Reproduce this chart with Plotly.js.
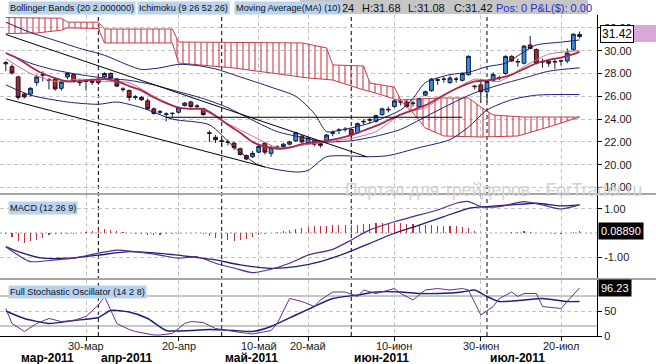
<!DOCTYPE html>
<html>
<head>
<meta charset="utf-8">
<script src="https://cdn.plot.ly/plotly-3.0.1.min.js"></script>
<style>html,body{margin:0;padding:0;background:#fff;overflow:hidden;}#chart{width:656px;height:364px;}</style>
</head>
<body>
<div id="chart"></div>
<script>
// ---------- trading calendar ----------
const monthDays = {
  '2011-03': [11,14,15,16,17,18,21,22,23,24,25,28,29,30,31],
  '2011-04': [1,4,5,6,7,8,11,12,13,14,15,18,19,20,21,25,26,27,28,29],
  '2011-05': [2,3,4,5,6,9,10,11,12,13,16,17,18,19,20,23,24,25,26,27,31],
  '2011-06': [1,2,3,6,7,8,9,10,13,14,15,16,17,20,21,22,23,24,27,28,29,30],
  '2011-07': [1,5,6,7,8,11,12,13,14,15,18,19,20,21,22,25]
};
const dates = [];
Object.keys(monthDays).forEach(m => monthDays[m].forEach(d => dates.push(m + '-' + String(d).padStart(2,'0'))));

const tickDates  = ['2011-03-30','2011-04-20','2011-05-10','2011-05-20','2011-06-10','2011-06-30','2011-07-20'];
const tickLabels = ['30-мар','20-апр','10-май','20-май','10-июн','30-июн','20-июл'];
const monthStartDates = ['2011-04-01','2011-05-02','2011-06-01','2011-07-01'];
const monthLabelDates = ['2011-03-15','2011-04-01','2011-05-02','2011-06-01','2011-07-01'];
const monthLabels = ['мар-2011','апр-2011','май-2011','июн-2011','июл-2011'];

// ---------- OHLC ----------
const open  = [28.85,28.6,27.7,26.2,26.2,27.2,27.85,27.4,27.5,26.7,27.7,27.9,27.25,27.3,27.3,27.5,27.7,28.0,27.5,26.65,
               26.5,25.9,25.9,25.6,24.9,24.6,24.4,24.5,24.6,25.2,25.5,25.1,24.9,22.8,22.4,22.1,22.0,21.9,21.4,20.8,
               20.7,21.1,21.9,21.0,21.5,21.6,21.8,22.1,22.5,21.95,22.1,21.85,22.0,22.75,23.0,23.1,23.1,22.8,23.75,23.9,
               23.8,24.4,24.8,25.1,25.5,25.5,25.35,25.1,26.1,26.5,27.4,27.5,27.2,27.5,27.4,27.9,26.9,27.0,26.4,27.4,
               27.6,28.0,29.5,29.0,28.9,30.5,30.1,29.0,29.1,29.0,29.1,29.1,30.1,31.24];
const high  = [29.1,28.8,27.8,26.3,26.8,27.9,28.2,27.6,27.6,27.4,28.1,28.0,27.5,27.5,27.5,27.6,28.1,28.1,27.6,26.8,
               26.6,26.1,26.0,25.8,25.0,24.8,24.6,24.6,25.1,25.5,25.6,25.3,25.0,23.0,22.6,22.3,22.2,22.0,21.5,20.9,
               21.2,21.8,22.0,21.7,21.7,21.9,22.1,22.9,22.6,22.4,22.2,21.9,22.7,23.0,23.2,23.3,23.2,23.7,24.0,24.1,
               24.4,25.0,25.1,25.7,25.7,25.7,25.6,25.9,26.5,27.6,27.6,27.7,27.8,27.7,28.1,29.6,27.0,27.3,27.4,28.1,
               27.8,29.6,29.6,29.3,30.5,31.3,30.2,29.3,29.2,29.3,29.2,30.2,31.5,31.68];
const low   = [28.2,27.9,25.7,25.8,26.0,26.9,27.3,26.6,26.5,26.5,27.5,27.2,26.9,26.5,27.0,27.0,27.6,27.5,26.8,26.4,
               25.6,25.7,25.6,24.8,24.4,24.4,23.8,24.2,24.5,25.1,25.0,24.9,24.3,22.0,21.9,21.6,21.7,21.3,20.8,20.4,
               20.6,21.0,20.9,20.7,21.4,21.5,21.7,22.0,21.9,21.8,21.6,21.5,21.9,22.5,22.7,22.9,22.4,22.7,23.5,23.6,
               23.7,24.3,24.6,25.0,25.2,25.0,25.1,25.0,26.0,26.4,27.0,27.2,27.1,27.2,27.3,27.8,26.6,25.4,25.5,27.3,
               27.4,27.9,29.0,28.6,28.8,30.1,28.8,28.5,28.6,28.4,28.7,28.9,30.0,31.08];
const close = [28.95,28.05,25.9,25.95,26.7,27.7,27.9,27.45,26.65,27.25,28.0,27.3,27.2,27.35,27.25,27.2,28.0,27.6,26.9,26.6,
               25.9,25.95,25.7,24.9,24.5,24.65,24.45,24.5,25.0,25.4,25.1,25.15,24.4,22.75,22.2,22.05,21.95,21.5,20.9,20.5,
               21.0,21.6,21.1,21.5,21.55,21.8,22.0,22.8,22.0,22.35,21.8,21.7,22.6,22.8,23.05,23.1,22.6,23.6,23.8,23.95,
               24.3,24.9,24.85,25.6,25.5,25.1,25.4,25.8,26.4,27.5,27.45,27.5,27.6,27.5,28.0,29.5,26.85,26.4,27.3,27.9,
               27.65,29.5,29.1,29.05,30.4,30.2,28.9,29.05,28.9,29.05,29.1,29.8,31.45,31.42];

// ---------- price-panel indicators (read at trading-day numbers) ----------
const cloudAIdx = [0,5,9,10,15,16,27,28,48,52,53,58,59,63,64,70,75,77,79,84,93];
const cloudA    = [32.9,32.9,32.85,32.5,32.5,31.9,31.9,30.76,30.68,30.24,28.75,28.66,27.17,26.8,25.68,25.85,25.85,25.06,24.36,24.18,24.18];
const cloudBIdx = [0,5,9,10,15,16,27,28,37,43,49,53,57,61,64,66,68,71,77,83,88,93];
const cloudB    = [31.5,31.55,31.8,32.0,31.95,30.68,30.68,28.92,28.48,28.04,27.61,27.43,26.73,26.11,25.59,24.54,23.22,22.52,22.43,22.52,23.31,24.18];

const bbUpIdx  = [0,4,8,12,16,20,22,25,28,31,34,38,43,47,50,52,54,59,64,66,68,72,75,78,81,84,86,90,93];
const bbUp     = [32.5,31.6,30.9,30.2,29.6,28.7,28.35,28.5,28.8,28.7,28.4,27.7,26.8,26.0,24.5,22.9,23.0,23.65,24.8,25.8,27.2,27.9,28.1,28.6,28.9,29.9,30.5,30.75,30.94];
const bbMidIdx = [0,4,8,12,16,20,24,28,32,36,40,44,48,52,56,60,64,68,72,76,80,84,88,93];
const bbMid    = [29.8,28.9,28.3,27.9,27.6,27.4,27.0,26.4,25.8,25.0,23.9,22.9,22.4,22.0,22.1,22.5,23.1,24.2,25.3,26.3,27.0,27.6,28.2,28.5];
const bbLowIdx = [0,4,10,15,18,22,27,33,37,41,47,49,52,59,62,67,72,75,78,82,86,93];
const bbLow    = [27.0,26.1,25.5,25.3,25.5,25.0,24.0,23.5,21.55,19.97,19.36,19.5,20.7,20.7,20.8,21.5,22.2,23.3,24.8,25.7,26.1,26.15];

const ma10Idx = [0,2,4,6,8,10,12,14,16,18,20,22,24,26,28,30,32,34,36,38,40,42,44,46,48,50,52,54,56,58,60,62,64,66,68,70,72,74,76,78,80,82,84,86,88,90,92,93];
const ma10    = [29.8,29.3,28.6,28.0,27.6,27.3,27.35,27.45,27.5,27.3,26.9,26.5,25.9,25.4,25.0,24.9,24.9,24.3,23.5,22.8,
                 22.0,21.6,21.4,21.5,21.8,21.95,22.1,22.3,22.6,23.0,23.4,23.9,24.4,24.8,25.2,25.8,26.4,26.9,27.3,27.4,
                 27.6,27.9,28.4,28.9,29.2,29.4,29.7,29.9];
const tenkanIdx = [0,4,8,12,16,20,24,28,32,36,40,44,48,52,56,60,64,68,72,76,80,84,88,93];
const tenkan    = [29.3,28.0,27.3,27.5,27.3,27.2,26.0,25.0,24.8,23.6,22.5,21.5,21.7,22.0,22.3,22.9,24.4,25.0,26.4,27.5,27.3,28.6,29.7,30.0];

// trend lines (trading-day number, price)
const trendUpIdx = [0,58.5],  trendUp = [31.42,20.70];
const trendLoIdx = [0,42],    trendLo = [25.78,19.80];
const levelIdx   = [26,74],   level   = [24.16,24.16];

// ---------- MACD ----------
const macdIdx = [0,2,4,8,11,15,18,21,25,28,31,34,37,40,43,46,49,53,56,59,63,66,70,73,75,77,80,84,87,90,93];
const macd    = [-0.57,-0.92,-1.19,-1.12,-1.05,-0.84,-0.71,-0.78,-0.92,-1.05,-0.99,-1.26,-1.46,-1.65,-1.51,-1.26,-0.92,-0.68,-0.29,0.13,0.47,0.68,0.96,1.24,1.31,1.10,1.10,1.31,1.17,1.00,1.17];
const signalIdx = [0,2,6,10,15,20,25,30,34,38,43,47,51,55,59,63,67,71,75,78,82,86,90,93];
const signal    = [-0.57,-0.78,-1.05,-1.05,-0.92,-0.78,-0.85,-0.99,-1.12,-1.33,-1.47,-1.40,-1.19,-0.85,-0.43,-0.01,0.33,0.68,1.03,1.10,1.17,1.24,1.13,1.17];
const macdHist = [-0.05,-0.15,-0.35,-0.4,-0.35,-0.3,-0.2,-0.1,-0.05,-0.05,
                  -0.05,-0.03,0.02,0.05,0.1,0.12,0.15,0.12,0.08,0.05,
                  0.02,-0.03,-0.05,-0.07,-0.08,-0.07,-0.05,-0.05,-0.04,-0.02,
                  0.0,0.0,-0.05,-0.12,-0.2,-0.25,-0.3,-0.32,-0.3,-0.25,
                  -0.18,-0.1,-0.05,0.0,0.03,0.07,0.12,0.18,0.22,0.25,
                  0.28,0.3,0.3,0.32,0.32,0.33,0.35,0.35,0.36,0.38,
                  0.4,0.4,0.42,0.42,0.4,0.38,0.36,0.35,0.33,0.32,
                  0.3,0.3,0.3,0.28,0.25,0.22,0.1,0.0,-0.02,-0.02,
                  0.0,0.02,0.03,0.05,0.07,0.05,0.02,0.0,-0.02,-0.03,
                  -0.03,-0.02,0.03,0.0889];

// ---------- Stochastic ----------
const kIdx = [0,1,3,5,7,9,11,13,15,16,18,20,21,24,25,27,29,30,32,34,37,40,43,44,46,48,50,51,53,55,57,58,60,63,64,66,68,70,72,74,75,77,79,80,82,83,84,86,87,90,91,93];
const stochK = [55,25,9,25,35,29,31,39,62,79,25,13,9,2,2,5,25,29,27,15,9,4,11,25,75,69,59,72,88,88,79,92,85,95,85,72,92,95,92,95,92,42,59,75,88,79,85,85,59,55,69,96.23];
const dIdx = [0,3,7,11,15,17,20,23,26,30,33,37,40,43,47,50,53,57,60,64,67,70,74,76,78,80,84,87,91,93];
const stochD = [50,35,25,31,37,51,48,35,11,11,13,11,9,19,42,59,75,82,88,88,85,85,88,92,79,69,72,75,69,69];

// ---------- build ----------
const idx = dates.map((d,i) => i);
const pos = d => dates.indexOf(d);
const FONT = 'Liberation Sans, Arial, sans-serif';
const NAVY = '#1e1e78', CLOUD = '#c83c48';

const traces = [
  {x: cloudBIdx, y: cloudB, type:'scatter', mode:'lines', line:{color:CLOUD, width:1}, yaxis:'y', hoverinfo:'skip'},
  {x: cloudAIdx, y: cloudA, type:'scatter', mode:'lines', line:{color:CLOUD, width:1}, yaxis:'y', hoverinfo:'skip',
   fill:'tonexty', fillcolor:'rgba(0,0,0,0)',
   fillpattern:{shape:'|', fgcolor:'#cc3a48', bgcolor:'rgba(255,255,255,0)', size:6, solidity:0.18}},
  {x: bbUpIdx, y: bbUp, type:'scatter', mode:'lines', line:{color:NAVY, width:1, shape:'spline', smoothing:0.7}, hoverinfo:'skip'},
  {x: bbMidIdx, y: bbMid, type:'scatter', mode:'lines', line:{color:NAVY, width:1, shape:'spline', smoothing:0.7}, hoverinfo:'skip'},
  {x: bbLowIdx, y: bbLow, type:'scatter', mode:'lines', line:{color:NAVY, width:1, shape:'spline', smoothing:0.7}, hoverinfo:'skip'},
  {x: tenkanIdx, y: tenkan, type:'scatter', mode:'lines', line:{color:'#d4708a', width:1, shape:'spline', smoothing:0.5}, hoverinfo:'skip'},
  {x: ma10Idx, y: ma10, type:'scatter', mode:'lines', line:{color:'#a8284c', width:1.8, shape:'spline', smoothing:0.7}, hoverinfo:'skip'},
  {x: trendUpIdx, y: trendUp, type:'scatter', mode:'lines', line:{color:'#000', width:1}, hoverinfo:'skip'},
  {x: trendLoIdx, y: trendLo, type:'scatter', mode:'lines', line:{color:'#000', width:1}, hoverinfo:'skip'},
  {x: levelIdx, y: level, type:'scatter', mode:'lines', line:{color:'#000', width:1}, hoverinfo:'skip'},
  {type:'candlestick', x: idx, open: open, high: high, low: low, close: close, yaxis:'y', hoverinfo:'skip',
   whiskerwidth: 0,
   increasing:{line:{color:'#101c3c', width:1}, fillcolor:'#3a8ede'},
   decreasing:{line:{color:'#2a0c14', width:1}, fillcolor:'#9e2a3a'}},
  // MACD
  {x: idx, y: macdHist, type:'bar', yaxis:'y2', marker:{color:'#c4303a', line:{width:0}}, width:0.18, hoverinfo:'skip'},
  {x: signalIdx, y: signal, type:'scatter', mode:'lines', yaxis:'y2', line:{color:NAVY, width:1.3, shape:'spline', smoothing:0.7}, hoverinfo:'skip'},
  {x: macdIdx, y: macd, type:'scatter', mode:'lines', yaxis:'y2', line:{color:'#5c2a88', width:1.2, shape:'spline', smoothing:0.7}, hoverinfo:'skip'},
  // Stochastic
  {x: dIdx, y: stochD, type:'scatter', mode:'lines', yaxis:'y3', line:{color:NAVY, width:1.4, shape:'spline', smoothing:0.6}, hoverinfo:'skip'},
  {x: kIdx, y: stochK, type:'scatter', mode:'lines', yaxis:'y3', line:{color:'#6a2c90', width:1}, hoverinfo:'skip'}
];

const W = 597, H = 336;             // plot-area size in px
const px = X => X / W;               // paper x from pixel
const py = Y => (H - Y) / H;         // paper y from pixel

const shapes = [];
// month separators
monthStartDates.forEach(d => shapes.push({type:'line', xref:'x', yref:'paper', x0:pos(d), x1:pos(d), y0:0, y1:py(15),
  line:{color:'#000', width:1, dash:'4px,3px'}, layer:'below'}));
// panel separators
[194, 279].forEach(Y => shapes.push({type:'line', xref:'paper', yref:'paper', x0:0, x1:px(656), y0:py(Y), y1:py(Y),
  line:{color:'#a6a6a6', width:2}}));
// stochastic levels
[80, 20].forEach(v => shapes.push({type:'line', xref:'paper', yref:'y3', x0:0, x1:1, y0:v, y1:v, line:{color:'#8e8e8e', width:1}, layer:'below'}));
// macd zero
shapes.push({type:'line', xref:'paper', yref:'y2', x0:0, x1:1, y0:0, y1:0, line:{color:'#9a9a9a', width:1, dash:'2px,3px'}, layer:'below'});
// header bar
shapes.push({type:'rect', xref:'paper', yref:'paper', x0:px(300), x1:px(588), y0:py(14), y1:1, fillcolor:'#c6c6c6', line:{width:0}});
// last price side tab
shapes.push({type:'rect', xref:'paper', yref:'y', x0:px(632), x1:px(657), y0:30.76, y1:32.25, fillcolor:'#d9a8d6', line:{width:0}});

const ann = [];
const lbl = (X, Y, text) => ({xref:'paper', yref:'paper', x:px(X), y:py(Y), xanchor:'left', yanchor:'middle',
  text:text, showarrow:false, bgcolor:'#b8d2ef', borderpad:1, font:{family:FONT, size:9.2, color:'#111'}});
const hdr = (X, text, color) => ({xref:'paper', yref:'paper', x:px(X), y:py(7.5), xanchor:'left', yanchor:'middle',
  text:text, showarrow:false, font:{family:FONT, size:11, color:color||'#111'}});
// (the opening price is hidden behind the MA label; only its tail shows)
ann.push(hdr(340,'24'), hdr(360,'H:31.68'), hdr(406,'L:31.08'), hdr(452,'C:31.42'), hdr(494,'Pos: 0 P&amp;L($): 0.00','#2a2ac8'));
ann.push(lbl(8, 8, 'Bollinger Bands (20 2.000000)'), lbl(137, 8, 'Ichimoku (9 26 52 26)'), lbl(234, 8, 'Moving Average(MA) (10)'));
ann.push(lbl(8, 208, 'MACD (12 26 9)'), lbl(8, 292, 'Full Stochastic Oscillator (14 2 8)'));
// watermark
ann.push({xref:'paper', yref:'paper', x:px(343), y:py(190), xanchor:'left', yanchor:'middle', showarrow:false,
  text:'Портал для трейдеров - ForTrader.ru', font:{family:FONT, size:17.5, color:'#d2d2d2'}});
// value tags
ann.push({xref:'paper', yref:'y', x:px(600), y:31.42, xanchor:'left', yanchor:'middle', showarrow:false, text:'31.42',
  bgcolor:'#fff', bordercolor:'#000', borderwidth:1, borderpad:1, font:{family:FONT, size:12, color:'#000'}});
ann.push({xref:'paper', yref:'y2', x:px(598), y:0.0889, xanchor:'left', yanchor:'middle', showarrow:false, text:'0.08890',
  bgcolor:'#000', borderpad:2, font:{family:FONT, size:11, color:'#fff'}});
ann.push({xref:'paper', yref:'y3', x:px(598), y:96.23, xanchor:'left', yanchor:'middle', showarrow:false, text:'96.23',
  bgcolor:'#000', borderpad:2, font:{family:FONT, size:11, color:'#fff'}});
// date tick labels
tickLabels.forEach((t,k) => ann.push({xref:'x', yref:'paper', x:pos(tickDates[k]), y:py(346), xanchor:'center', yanchor:'middle',
  showarrow:false, text:t, font:{family:FONT, size:11, color:'#1a1a1a'}}));
// month labels
monthLabels.forEach((t,k) => ann.push({xref:'x', yref:'paper', x:pos(monthLabelDates[k]), y:py(358), xanchor:'left', yanchor:'middle',
  xshift:1, showarrow:false, text:'<b>'+t+'</b>', font:{family:FONT, size:12, color:'#000'}}));

const priceTicks = [18,20,22,24,26,28,30,32];
const yCommon = {side:'right', anchor:'x', showline:true, linecolor:'#000', linewidth:1, ticks:'outside', ticklen:4,
  tickcolor:'#000', tickfont:{family:FONT, size:11, color:'#1a1a1a'}, zeroline:false, showgrid:true,
  gridcolor:'#c4c4c4', griddash:'4px,3px', fixedrange:true, tickmode:'array'};

const layout = {
  width:656, height:364, margin:{l:0, r:59, t:0, b:28}, paper_bgcolor:'#fff', plot_bgcolor:'#fff',
  showlegend:false, boxgap:0.12, bargap:0,
  xaxis:{range:[-0.94, 95.83], anchor:'y3', tickmode:'array', tickvals:tickDates.map(pos), showticklabels:false,
    showgrid:true, gridcolor:'#c4c4c4', griddash:'4px,3px', ticks:'outside', ticklen:4, tickcolor:'#000',
    showline:true, linecolor:'#000', zeroline:false, rangeslider:{visible:false}, fixedrange:true},
  yaxis: Object.assign({}, yCommon, {domain:[py(193), py(15)], range:[17.52, 33.13],
    tickvals:priceTicks, ticktext:priceTicks.map(v => v.toFixed(2))}),
  yaxis2: Object.assign({}, yCommon, {domain:[py(278), py(195)], range:[-1.875, 1.583],
    tickvals:[-1, 1], ticktext:['-1.00','1.00']}),
  yaxis3: Object.assign({}, yCommon, {domain:[0, py(280)], range:[0, 112],
    tickvals:[0, 50], ticktext:['0','50']}),
  shapes: shapes, annotations: ann
};

Plotly.newPlot('chart', traces, layout, {staticPlot:true, displayModeBar:false});
</script>
</body>
</html>
